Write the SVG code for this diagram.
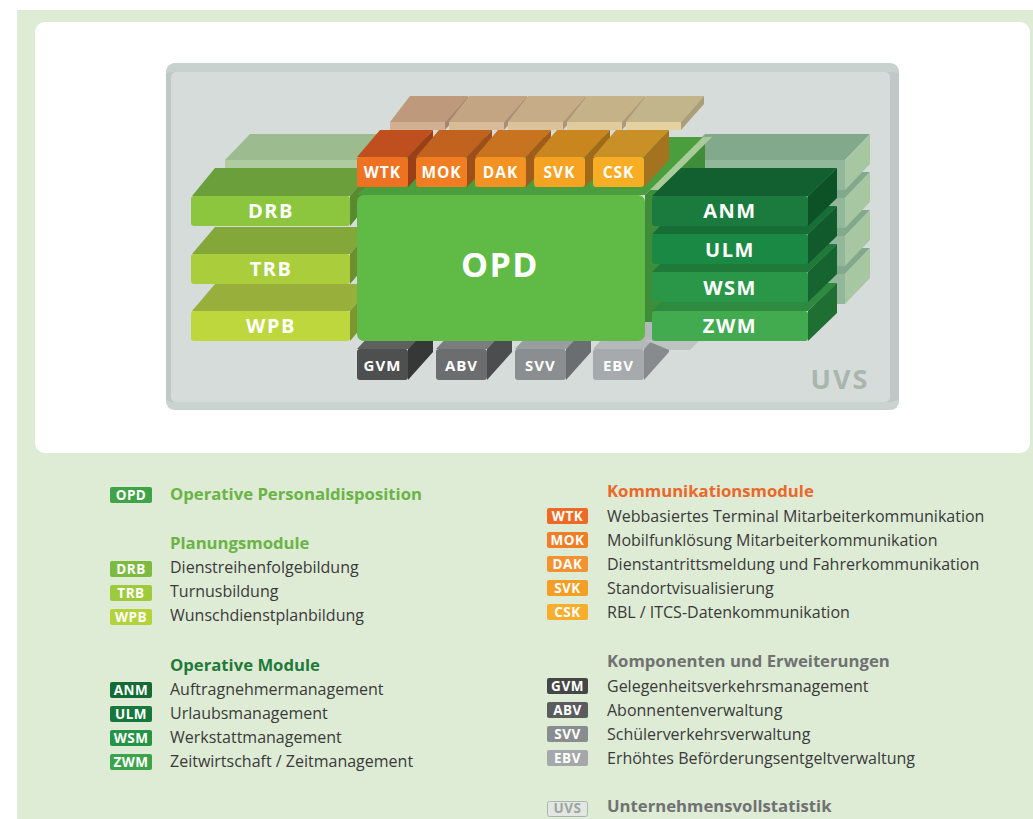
<svg xmlns="http://www.w3.org/2000/svg" width="1033" height="819" viewBox="0 0 1033 819">
<style>
text{font-family:"Open Sans","Noto Sans",sans-serif}
.bl{fill:#fff;font-weight:700;text-anchor:middle;letter-spacing:1.5px}
.b20{font-size:20px}
.b15{font-size:15.5px;letter-spacing:1px}
.b14{font-size:15px;letter-spacing:1px}
.bd{fill:#fff;font-weight:700;font-size:13.5px;text-anchor:middle;letter-spacing:0.5px}
.tx{fill:#3a3a3a;font-size:16px}
.hd{font-weight:700;font-size:16.7px}
</style>
<rect x="0" y="0" width="1033" height="819" fill="#fff"/>
<rect x="17" y="10" width="1016" height="809" fill="#deebd5"/>
<rect x="35" y="22" width="995" height="431" rx="10" fill="#fff"/>

<g id="UVS">
<rect x="166" y="63" width="733" height="347" rx="10" fill="#bfc8c6"/>
<rect x="171" y="72" width="719" height="330" rx="5" fill="#d6dcda"/>
<path d="M166 73 Q166 63 176 63 L889 63 Q899 63 899 73 L890 72 L172 72Z" fill="#c9d1cf"/>
<path d="M171 402 L890 402 L899 400 Q899 410 889 410 L176 410 Q166 410 166 400Z" fill="#cbd3d1"/>
<text x="840" y="389" fill="#a8b6ad" font-weight="700" font-size="27" text-anchor="middle" letter-spacing="2">UVS</text>
</g>

<g id="pale-back">
<polygon points="225,160 250,134 392,134 367,160" fill="#9cbc8f"/>
<rect x="225" y="160" width="142" height="9" fill="#aecca0"/>
<g fill="#83a98c">
<polygon points="680,160 705,134 870,134 845,160"/>
<polygon points="680,198 705,172 870,172 845,198"/>
<polygon points="680,236 705,210 870,210 845,236"/>
<polygon points="680,274 705,248 870,248 845,274"/>
</g>
<g fill="#a6c7a2">
<polygon points="845,160 870,134 870,164 845,190"/>
<polygon points="845,198 870,172 870,202 845,228"/>
<polygon points="845,236 870,210 870,240 845,266"/>
<polygon points="845,274 870,248 870,278 845,304"/>
</g>
<g fill="#93b79a">
<rect x="680" y="160" width="165" height="30"/>
<rect x="680" y="198" width="165" height="30"/>
<rect x="680" y="236" width="165" height="30"/>
<rect x="680" y="274" width="165" height="30"/>
</g>
</g>

<g id="comm-back">
<polygon points="390,122 410,96 468,96 445,122" fill="#bf997c"/>
<rect x="390" y="122" width="55" height="8" fill="#d3b092"/>
<polygon points="445,122 468,96 468,104 445,130" fill="#a8866a"/>
<polygon points="449,122 469,96 527,96 504,122" fill="#c4a583"/>
<rect x="449" y="122" width="55" height="8" fill="#d8bb97"/>
<polygon points="504,122 527,96 527,104 504,130" fill="#ab8f70"/>
<polygon points="508,122 528,96 586,96 563,122" fill="#c7ad87"/>
<rect x="508" y="122" width="55" height="8" fill="#dcc39b"/>
<polygon points="563,122 586,96 586,104 563,130" fill="#ae9673"/>
<polygon points="567,122 587,96 645,96 622,122" fill="#c5b288"/>
<rect x="567" y="122" width="55" height="8" fill="#e0cb9d"/>
<polygon points="622,122 645,96 645,104 622,130" fill="#ad9b75"/>
<polygon points="626,122 646,96 704,96 681,122" fill="#c3b58b"/>
<rect x="626" y="122" width="55" height="8" fill="#e4d2a1"/>
<polygon points="681,122 704,96 704,104 681,130" fill="#ac9e78"/>
</g>

<g id="WPB">
<polygon points="192,311 215,284 373,284 350,311" fill="#98b03b"/>
<polygon points="350,311 373,284 373,314 350,341" fill="#7e962f"/>
<rect x="191" y="311" width="159" height="30" rx="3" fill="#bdd73c"/>
<text class="bl b20" x="271" y="333">WPB</text>
</g>
<g id="TRB">
<polygon points="192,254 215,227 373,227 350,254" fill="#84a73a"/>
<polygon points="350,254 373,227 373,257 350,284" fill="#6d8d2f"/>
<rect x="191" y="254" width="159" height="30" rx="3" fill="#a9cd3b"/>
<text class="bl b20" x="271" y="276">TRB</text>
</g>
<g id="DRB">
<polygon points="192,196 215,168 373,168 350,196" fill="#6a9f3b"/>
<polygon points="350,196 373,168 373,198 350,226" fill="#5a8a30"/>
<rect x="191" y="196" width="159" height="30" rx="3" fill="#8cc63f"/>
<text class="bl b20" x="271" y="218">DRB</text>
</g>

<g id="OPD-body">
<polygon points="357,195 417,137 705,137 645,195" fill="#4a9e3d"/>
<polygon points="645,195 705,137 705,282 645,340" fill="#3f8d39"/>
<polygon points="650,190 703,137 712,137 659,190" fill="#a8cb98"/>
</g>

<g id="WTK">
<polygon points="357,157 380,130 433,130 408,157" fill="#c04f20"/>
<polygon points="408,157 433,130 433,160 408,187" fill="#9a3f18"/>
<rect x="357" y="157" width="51" height="30" rx="3" fill="#ef7122"/>
<text class="bl b15" x="382.5" y="178">WTK</text>
</g>
<g id="MOK">
<polygon points="416,157 439,130 492,130 467,157" fill="#c2621f"/>
<polygon points="467,157 492,130 492,160 467,187" fill="#9d4e19"/>
<rect x="416" y="157" width="51" height="30" rx="3" fill="#f17d22"/>
<text class="bl b15" x="441.5" y="178">MOK</text>
</g>
<g id="DAK">
<polygon points="475,157 498,130 551,130 526,157" fill="#c8731f"/>
<polygon points="526,157 551,130 551,160 526,187" fill="#a05c19"/>
<rect x="475" y="157" width="51" height="30" rx="3" fill="#f39222"/>
<text class="bl b15" x="500.5" y="178">DAK</text>
</g>
<g id="SVK">
<polygon points="534,157 557,130 610,130 585,157" fill="#c9861f"/>
<polygon points="585,157 610,130 610,160 585,187" fill="#a06a19"/>
<rect x="534" y="157" width="51" height="30" rx="3" fill="#f6a223"/>
<text class="bl b15" x="559.5" y="178">SVK</text>
</g>
<g id="CSK">
<polygon points="593,157 616,130 669,130 644,157" fill="#ca9028"/>
<polygon points="644,157 669,130 669,160 644,187" fill="#a3731f"/>
<rect x="593" y="157" width="51" height="30" rx="3" fill="#f8ae24"/>
<text class="bl b15" x="618.5" y="178">CSK</text>
</g>

<g id="GVM">
<polygon points="357,349 382,322 433,322 408,349" fill="#5e6060"/>
<polygon points="408,349 433,322 433,352 408,380" fill="#363838"/>
<rect x="357" y="349" width="51" height="31" rx="3" fill="#4e5050"/>
<text class="bl b14" x="382.5" y="371">GVM</text>
</g>
<g id="ABV">
<polygon points="436,349 461,322 512,322 487,349" fill="#7a7c7e"/>
<polygon points="487,349 512,322 512,352 487,380" fill="#4b4d4f"/>
<rect x="436" y="349" width="51" height="31" rx="3" fill="#6b6d6f"/>
<text class="bl b14" x="461.5" y="371">ABV</text>
</g>
<g id="SVV">
<polygon points="515,349 540,322 591,322 566,349" fill="#9a9d9f"/>
<polygon points="566,349 591,322 591,352 566,380" fill="#6b6e70"/>
<rect x="515" y="349" width="51" height="31" rx="3" fill="#8b8e90"/>
<text class="bl b14" x="540.5" y="371">SVV</text>
</g>
<g id="EBV">
<polygon points="593,349 618,322 669,322 644,349" fill="#b4b8bb"/>
<polygon points="644,349 669,322 669,352 644,380" fill="#878b8e"/>
<rect x="593" y="349" width="51" height="31" rx="3" fill="#a6aaad"/>
<text class="bl b14" x="618.5" y="371">EBV</text>
</g>
<polygon points="645,340 700,340 690,350 669,350" fill="#bcc3c1"/>

<g id="OPD">
<rect x="357" y="195" width="288" height="146" rx="7" fill="#60bb46"/>
<text class="bl" x="500" y="277" font-size="34" letter-spacing="2">OPD</text>
</g>

<g id="ZWM">
<polygon points="652,311 681,283 837,283 808,311" fill="#2d8a3e"/>
<polygon points="808,311 837,283 837,313 808,341" fill="#1f6e32"/>
<rect x="652" y="311" width="156" height="30" rx="3" fill="#42aa4f"/>
<text class="bl b20" x="730" y="333">ZWM</text>
</g>
<g id="WSM">
<polygon points="652,272 681,244 837,244 808,272" fill="#1f7a39"/>
<polygon points="808,272 837,244 837,274 808,302" fill="#166530"/>
<rect x="652" y="272" width="156" height="30" rx="3" fill="#2a9748"/>
<text class="bl b20" x="730" y="295">WSM</text>
</g>
<g id="ULM">
<polygon points="652,234 681,206 837,206 808,234" fill="#166d35"/>
<polygon points="808,234 837,206 837,236 808,264" fill="#105a2b"/>
<rect x="652" y="234" width="156" height="30" rx="3" fill="#1a8943"/>
<text class="bl b20" x="730" y="257">ULM</text>
</g>
<g id="ANM">
<polygon points="652,196 681,168 837,168 808,196" fill="#125f2f"/>
<polygon points="808,196 837,168 837,198 808,226" fill="#0d5227"/>
<rect x="652" y="196" width="156" height="30" rx="3" fill="#1b7b3e"/>
<text class="bl b20" x="730" y="218">ANM</text>
</g>

<g id="legend-left">
<rect x="110" y="487" width="42" height="16" rx="2" fill="#3fa447"/><text class="bd" x="131" y="500">OPD</text>
<text class="hd" x="170" y="500" fill="#6ab446">Operative Personaldisposition</text>
<text class="hd" x="170" y="549" fill="#6ab446">Planungsmodule</text>
<rect x="110" y="561" width="42" height="16" rx="2" fill="#7cbb3f"/><text class="bd" x="131" y="574">DRB</text>
<text class="tx" x="170" y="573">Dienstreihenfolgebildung</text>
<rect x="110" y="585" width="42" height="16" rx="2" fill="#9dcb3c"/><text class="bd" x="131" y="598">TRB</text>
<text class="tx" x="170" y="597">Turnusbildung</text>
<rect x="110" y="609" width="42" height="16" rx="2" fill="#b4d33a"/><text class="bd" x="131" y="622">WPB</text>
<text class="tx" x="170" y="621">Wunschdienstplanbildung</text>
<text class="hd" x="170" y="671" fill="#1f7a3a">Operative Module</text>
<rect x="110" y="682" width="42" height="16" rx="2" fill="#146b35"/><text class="bd" x="131" y="695">ANM</text>
<text class="tx" x="170" y="695">Auftragnehmermanagement</text>
<rect x="110" y="706" width="42" height="16" rx="2" fill="#17773c"/><text class="bd" x="131" y="719">ULM</text>
<text class="tx" x="170" y="719">Urlaubsmanagement</text>
<rect x="110" y="730" width="42" height="16" rx="2" fill="#259446"/><text class="bd" x="131" y="743">WSM</text>
<text class="tx" x="170" y="743">Werkstattmanagement</text>
<rect x="110" y="754" width="42" height="16" rx="2" fill="#3ca34b"/><text class="bd" x="131" y="767">ZWM</text>
<text class="tx" x="170" y="767">Zeitwirtschaft / Zeitmanagement</text>
</g>

<g id="legend-right">
<text class="hd" x="607" y="497" fill="#e9682a">Kommunikationsmodule</text>
<rect x="547" y="508" width="41" height="16" rx="2" fill="#ed6a25"/><text class="bd" x="567.5" y="521">WTK</text>
<text class="tx" x="607" y="522">Webbasiertes Terminal Mitarbeiterkommunikation</text>
<rect x="547" y="532" width="41" height="16" rx="2" fill="#f07e26"/><text class="bd" x="567.5" y="545">MOK</text>
<text class="tx" x="607" y="546">Mobilfunklösung Mitarbeiterkommunikation</text>
<rect x="547" y="556" width="41" height="16" rx="2" fill="#f29230"/><text class="bd" x="567.5" y="569">DAK</text>
<text class="tx" x="607" y="570">Dienstantrittsmeldung und Fahrerkommunikation</text>
<rect x="547" y="580" width="41" height="16" rx="2" fill="#f49e25"/><text class="bd" x="567.5" y="593">SVK</text>
<text class="tx" x="607" y="594">Standortvisualisierung</text>
<rect x="547" y="604" width="41" height="16" rx="2" fill="#f7ae2e"/><text class="bd" x="567.5" y="617">CSK</text>
<text class="tx" x="607" y="618">RBL / ITCS-Datenkommunikation</text>
<text class="hd" x="607" y="667" fill="#6f7271">Komponenten und Erweiterungen</text>
<rect x="547" y="678" width="41" height="16" rx="2" fill="#454747"/><text class="bd" x="567.5" y="691">GVM</text>
<text class="tx" x="607" y="692">Gelegenheitsverkehrsmanagement</text>
<rect x="547" y="702" width="41" height="16" rx="2" fill="#5a5c5e"/><text class="bd" x="567.5" y="715">ABV</text>
<text class="tx" x="607" y="716">Abonnentenverwaltung</text>
<rect x="547" y="726" width="41" height="16" rx="2" fill="#8a8d8f"/><text class="bd" x="567.5" y="739">SVV</text>
<text class="tx" x="607" y="740">Schülerverkehrsverwaltung</text>
<rect x="547" y="750" width="41" height="16" rx="2" fill="#a4a8aa"/><text class="bd" x="567.5" y="763">EBV</text>
<text class="tx" x="607" y="764">Erhöhtes Beförderungsentgeltverwaltung</text>
<rect x="547.5" y="801.5" width="40" height="15" rx="2" fill="#e2e7e2" stroke="#aeb4b0"/><text class="bd" x="567.5" y="813" style="fill:#9ea4a1">UVS</text>
<text class="hd" x="607" y="812" fill="#6f7271">Unternehmensvollstatistik</text>
</g>
</svg>
